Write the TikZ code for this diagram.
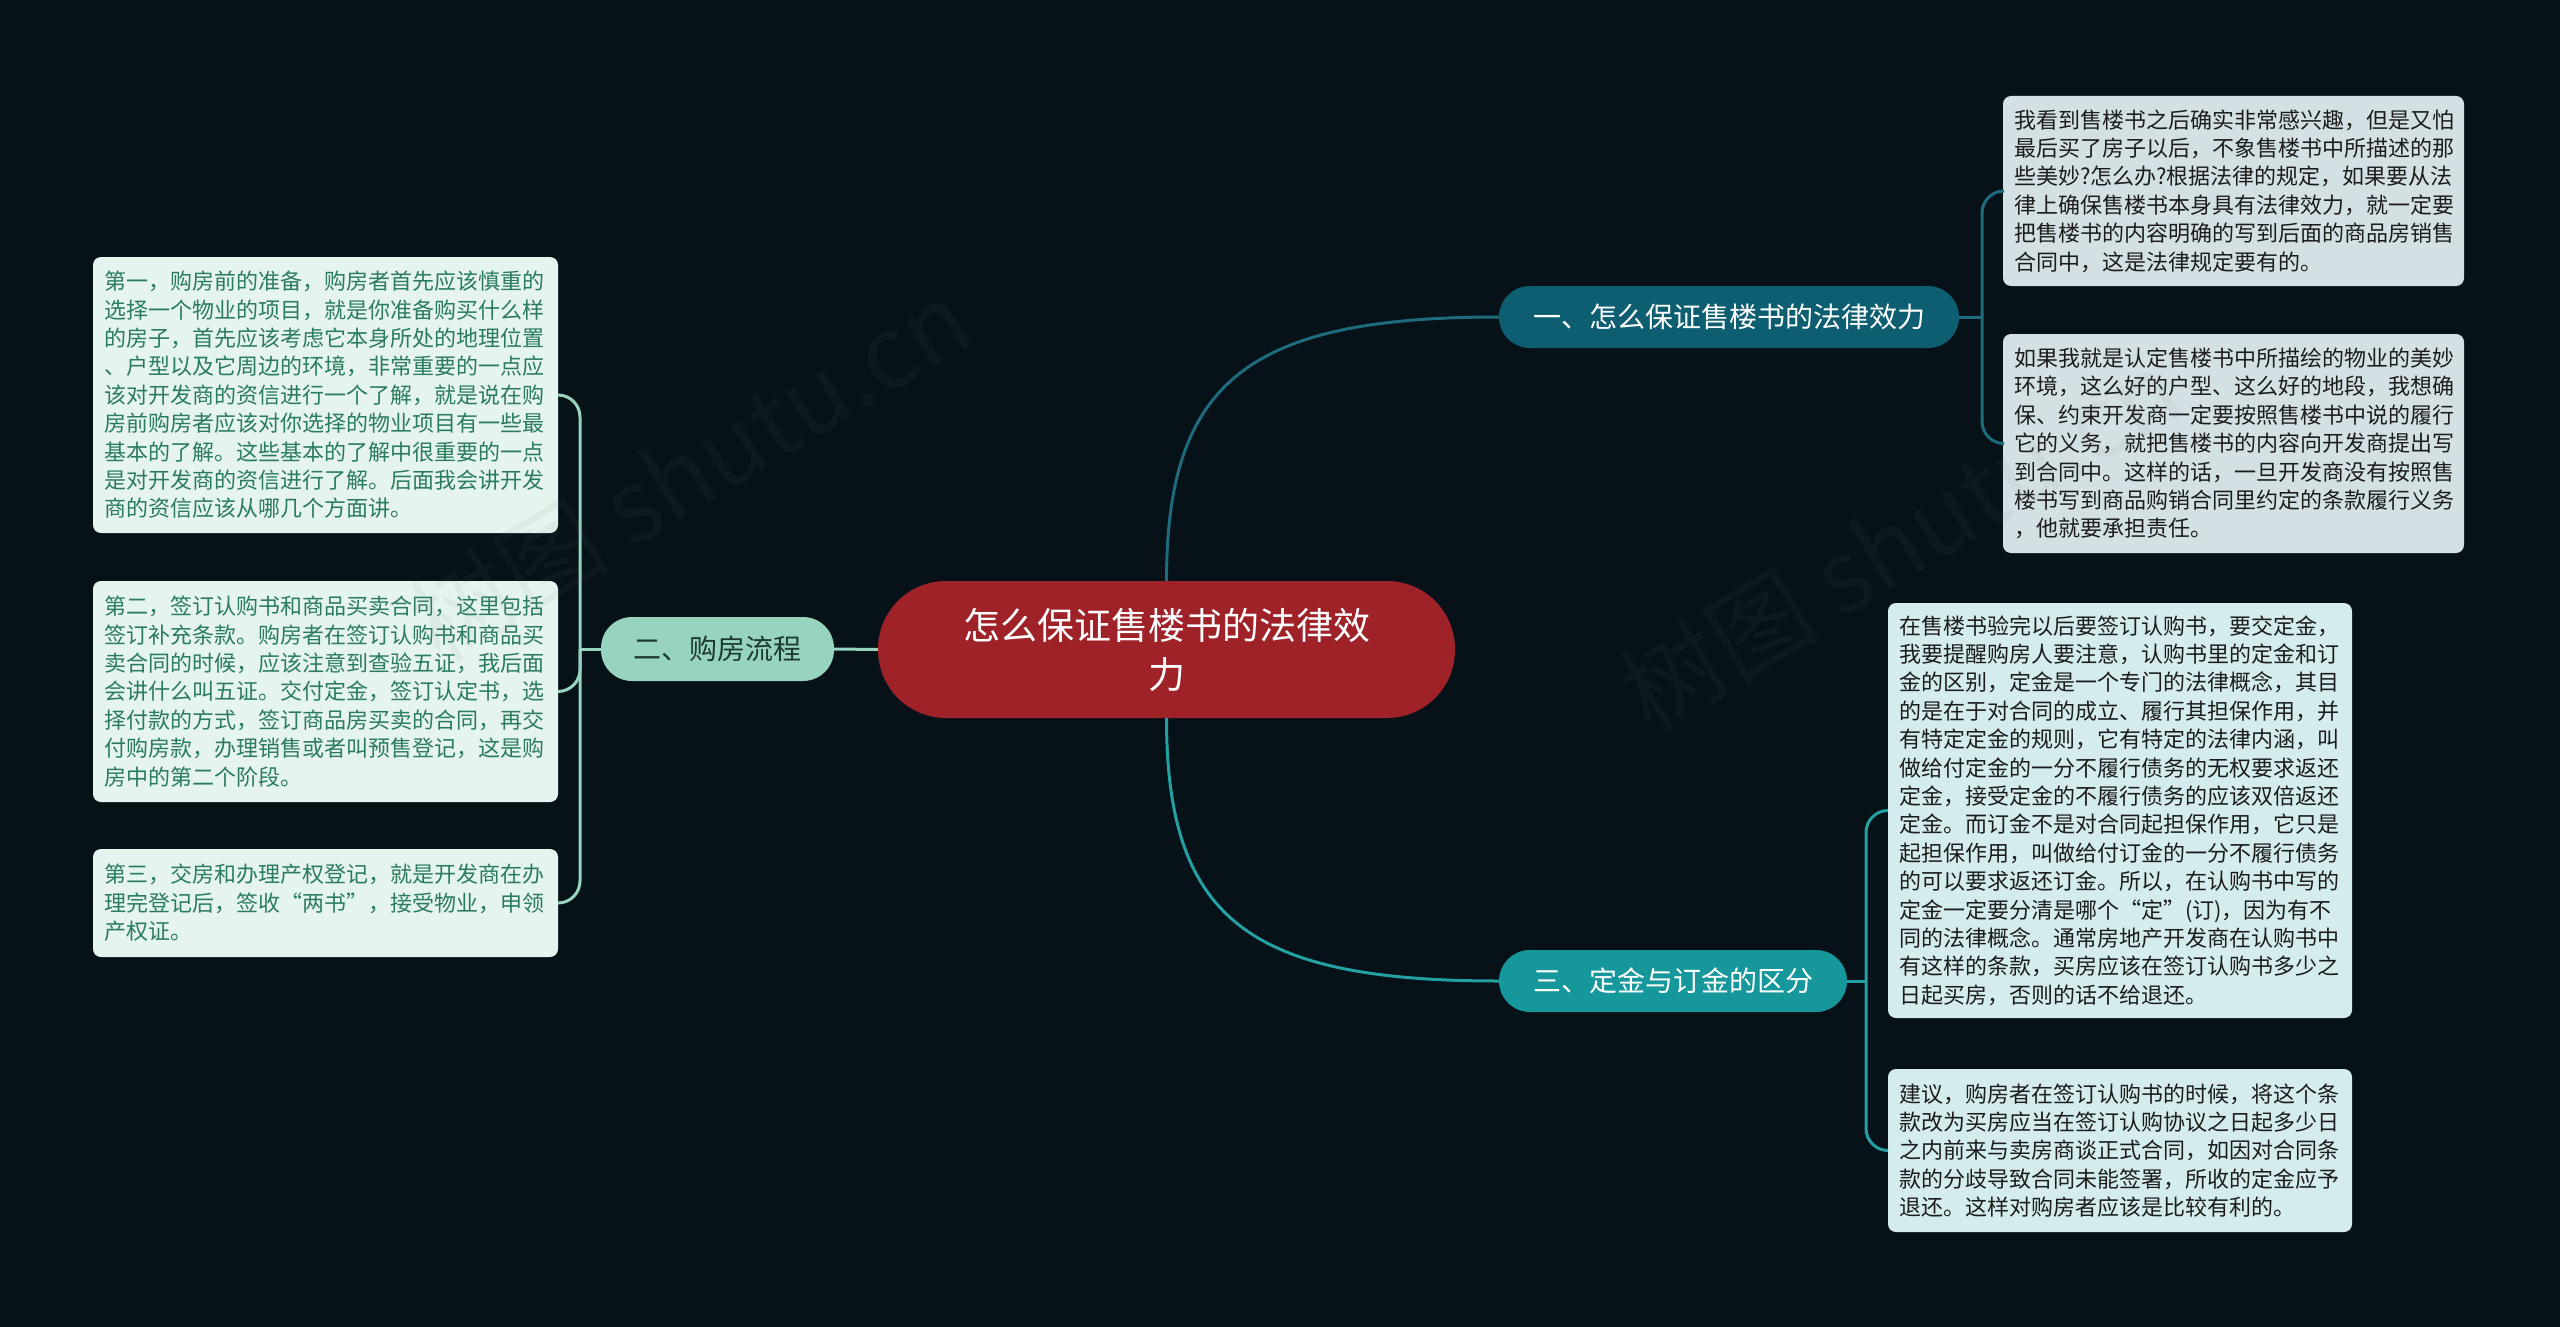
\documentclass[tikz,border=0pt]{standalone}
\usepackage{fontspec}
\newfontfamily\cjk{Noto Sans CJK SC}
\definecolor{bgc}{RGB}{6,17,24}
\definecolor{rootc}{RGB}{158,34,40}
\definecolor{b1c}{RGB}{14,94,114}
\definecolor{b2c}{RGB}{150,212,191}
\definecolor{b3c}{RGB}{21,151,155}
\definecolor{l1c}{RGB}{211,225,229}
\definecolor{l3c}{RGB}{212,236,238}
\definecolor{l2c}{RGB}{229,244,238}
\definecolor{l2t}{RGB}{42,124,92}
\definecolor{ltxt}{RGB}{28,28,28}
\definecolor{k1}{RGB}{29,107,125}
\definecolor{k2}{RGB}{150,212,191}
\definecolor{k3}{RGB}{35,160,162}
\definecolor{b2t}{RGB}{30,58,53}
\tikzset{
  rootbox/.style={fill=rootc, rounded corners=68, minimum width=577, minimum height=137,
    text=white, font=\cjk\fontsize{37}{49}\selectfont, align=center, inner sep=0},
  branchbox/.style={rounded corners=31, minimum height=62, inner sep=0,
    font=\cjk\fontsize{28}{34}\selectfont},
  leafbox/.style={rounded corners=8, inner xsep=11, inner ysep=0, align=left,
    font=\cjk\fontsize{22}{28.4}\selectfont},
  leafone/.style={leafbox, fill=l1c, text=ltxt},
  leafthree/.style={leafbox, fill=l3c, text=ltxt},
  leaftwo/.style={leafbox, fill=l2c, text=l2t},
  con/.style={line width=3, rounded corners=22},
  wmark/.style={text=gray, opacity=0.07, font=\cjk\fontsize{100}{110}\selectfont, rotate=31}
}
\begin{document}
\begin{tikzpicture}[x=1pt,y=-1pt]
\useasboundingbox (0,0) rectangle (2560,1327);
\fill[bgc] (0,0) rectangle (2560,1327);

% nodes
\node[rootbox] (root) at (1166.5,649.5) {怎么保证售楼书的法律效\\力};
\node[branchbox, fill=b1c, text=white, minimum width=460] (b1) at (1729,317) {一、怎么保证售楼书的法律效力};
\node[branchbox, fill=b2c, text=b2t, minimum width=233, minimum height=64] (b2) at (717.5,649) {二、购房流程};
\node[branchbox, fill=b3c, text=white, minimum width=348] (b3) at (1673,981) {三、定金与订金的区分};

\node[leafone, text width=439, minimum height=190] (l1a) at (2233.5,191) {我看到售楼书之后确实非常感兴趣，但是又怕\\最后买了房子以后，不象售楼书中所描述的那\\些美妙?怎么办?根据法律的规定，如果要从法\\律上确保售楼书本身具有法律效力，就一定要\\把售楼书的内容明确的写到后面的商品房销售\\合同中，这是法律规定要有的。};
\node[leafone, text width=439, minimum height=219] (l1b) at (2233.5,443.5) {如果我就是认定售楼书中所描绘的物业的美妙\\环境，这么好的户型、这么好的地段，我想确\\保、约束开发商一定要按照售楼书中说的履行\\它的义务，就把售楼书的内容向开发商提出写\\到合同中。这样的话，一旦开发商没有按照售\\楼书写到商品购销合同里约定的条款履行义务\\，他就要承担责任。};
\node[leafthree, text width=442, minimum height=415] (l3a) at (2120,810.5) {在售楼书验完以后要签订认购书，要交定金，\\我要提醒购房人要注意，认购书里的定金和订\\金的区别，定金是一个专门的法律概念，其目\\的是在于对合同的成立、履行其担保作用，并\\有特定定金的规则，它有特定的法律内涵，叫\\做给付定金的一分不履行债务的无权要求返还\\定金，接受定金的不履行债务的应该双倍返还\\定金。而订金不是对合同起担保作用，它只是\\起担保作用，叫做给付订金的一分不履行债务\\的可以要求返还订金。所以，在认购书中写的\\定金一定要分清是哪个“定”(订)，因为有不\\同的法律概念。通常房地产开发商在认购书中\\有这样的条款，买房应该在签订认购书多少之\\日起买房，否则的话不给退还。};
\node[leafthree, text width=442, minimum height=163] (l3b) at (2120,1150.5) {建议，购房者在签订认购书的时候，将这个条\\款改为买房应当在签订认购协议之日起多少日\\之内前来与卖房商谈正式合同，如因对合同条\\款的分歧导致合同未能签署，所收的定金应予\\退还。这样对购房者应该是比较有利的。};
\node[leaftwo, text width=443, minimum height=276] (l2a) at (325.5,395) {第一，购房前的准备，购房者首先应该慎重的\\选择一个物业的项目，就是你准备购买什么样\\的房子，首先应该考虑它本身所处的地理位置\\、户型以及它周边的环境，非常重要的一点应\\该对开发商的资信进行一个了解，就是说在购\\房前购房者应该对你选择的物业项目有一些最\\基本的了解。这些基本的了解中很重要的一点\\是对开发商的资信进行了解。后面我会讲开发\\商的资信应该从哪几个方面讲。};
\node[leaftwo, text width=443, minimum height=221] (l2b) at (325.5,691.5) {第二，签订认购书和商品买卖合同，这里包括\\签订补充条款。购房者在签订认购书和商品买\\卖合同的时候，应该注意到查验五证，我后面\\会讲什么叫五证。交付定金，签订认定书，选\\择付款的方式，签订商品房买卖的合同，再交\\付购房款，办理销售或者叫预售登记，这是购\\房中的第二个阶段。};
\node[leaftwo, text width=443, minimum height=108] (l2c) at (325.5,903) {第三，交房和办理产权登记，就是开发商在办\\理完登记后，签收“两书”，接受物业，申领\\产权证。};

% junctions
\coordinate (j1) at (1982,317);
\coordinate (j2) at (580,649);
\coordinate (j3) at (1866,981);

% connectors root -> branches
\draw[k1, line width=3] (root.north) .. controls (1166.5,380) and (1250,317) .. (b1.west);
\draw[k3, line width=3] (root.south) .. controls (1166.5,920) and (1250,981) .. (b3.west);
\draw[k2, line width=3] (root.west) -- (b2.east);

% branch 1 brackets
\draw[k1, con] (b1.east) -- (j1);
\draw[k1, con] (j1) |- (l1a.west);
\draw[k1, con] (j1) |- (l1b.west);
% branch 3 brackets
\draw[k3, con] (b3.east) -- (j3);
\draw[k3, con] (j3) |- (l3a.west);
\draw[k3, con] (j3) |- (l3b.west);
% branch 2 brackets
\draw[k2, con] (b2.west) -- (j2);
\draw[k2, con] (j2) |- (l2a.east);
\draw[k2, con] (j2) |- (l2b.east);
\draw[k2, con] (j2) |- (l2c.east);

% watermarks
\node[wmark] (wm1) at (690,470) {树图 shutu.cn};
\node[wmark] (wm2) at (1900,540) {树图 shutu.cn};
\end{tikzpicture}
\end{document}
